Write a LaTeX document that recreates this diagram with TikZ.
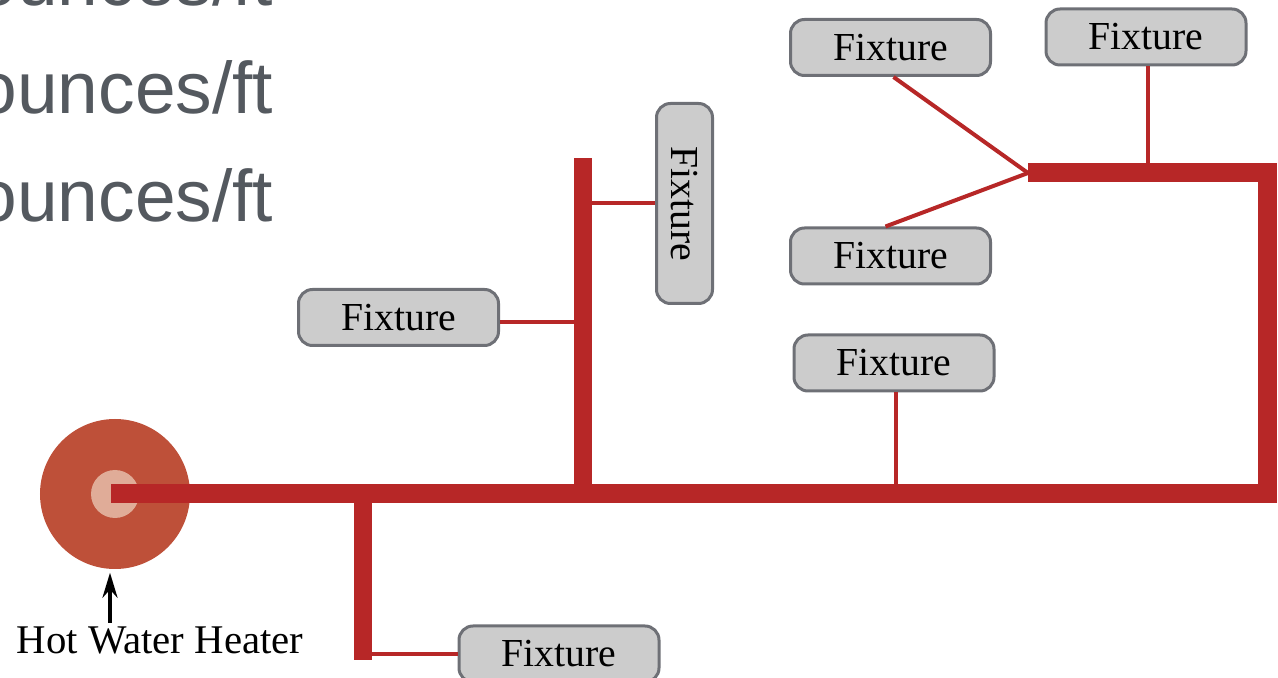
\documentclass[tikz,border=0pt]{standalone}
\usetikzlibrary{arrows.meta}
\usepackage{fontspec}
\setmainfont{Liberation Serif}
\newfontfamily\slidefont{Liberation Sans}
\definecolor{pipered}{HTML}{B72727}
\definecolor{heaterred}{HTML}{BE5039}
\definecolor{heatercore}{HTML}{E0AC98}
\definecolor{fixturegray}{HTML}{CCCCCC}
\definecolor{fixtureline}{HTML}{6E7076}
\definecolor{slidetext}{HTML}{54595F}
\tikzset{
	fixture/.style={draw=fixtureline, line width=0.03cm, rectangle, rounded corners=0.14cm, fill=fixturegray, minimum width=2cm, minimum height=0.56cm, inner sep=0pt, font=\fontsize{11.3pt}{13pt}\selectfont},
	mainpipe/.style={draw=pipered, line width=0.19cm},
	thinpipe/.style={draw=pipered, line width=0.04cm},
	slideline/.style={anchor=base east, inner sep=0pt, text=slidetext, font=\slidefont\fontsize{20.8pt}{24pt}\selectfont}
}
\begin{document}
\begin{tikzpicture}
	\useasboundingbox (0, 0) rectangle (12.78, 6.78);
	\clip (0, 0) rectangle (12.78, 6.78);
	% leftover slide text
	\node[slideline] (L1)at(2.74, 6.72) {ounces/ft};
	\node[slideline] (L2)at(2.74, 5.645) {ounces/ft};
	\node[slideline] (L3)at(2.74, 4.565) {ounces/ft};
	% heater
	\node[circle, fill=heaterred, minimum size=1.5cm] (Heater)at(1.15, 1.84) {};
	\node[circle, fill=heatercore, minimum size=0.48cm, inner sep=0pt] (Core)at(1.15, 1.84) {};
	\node[inner sep=0pt, font=\fontsize{11.6pt}{13pt}\selectfont] (HeaterLabel)at(1.60, 0.38) {Hot Water Heater};
	% fixtures
	\node[fixture] (F1)at(8.905, 6.305) {Fixture};
	\node[fixture] (F2)at(11.46, 6.41) {Fixture};
	\node[fixture] (F3)at(8.905, 4.22) {Fixture};
	\node[fixture] (F4)at(8.94, 3.15) {Fixture};
	\node[fixture] (F5)at(3.985, 3.605) {Fixture};
	\node[fixture, rotate=-90] (F6)at(6.845, 4.745) {Fixture};
	\node[fixture] (F7)at(5.59, 0.24) {Fixture};
	% pipe corners
	\coordinate (Corner1)at(12.67, 1.84);
	\coordinate (Corner2)at(12.67, 5.05);
	\coordinate (Split)at(10.28, 5.05);
	\coordinate (Tee1)at(5.83, 1.84);
	\coordinate (Tee1Top)at(5.83, 5.20);
	\coordinate (Tee2)at(3.63, 1.84);
	\coordinate (Tee2End)at(3.63, 0.18);
	\coordinate (Foot)at(1.10, 0.55);
	% thin pipes
	\draw[thinpipe] ([xshift=0.03cm]F1.south) -- (Split);
	\draw[thinpipe] ([xshift=-0.05cm]F3.north) -- (Split);
	\draw[thinpipe] ([xshift=0.02cm]F2.south) -- ([xshift=0.02cm]F2.south |- Split);
	\draw[thinpipe] ([xshift=0.02cm]F4.south) -- ([xshift=0.02cm]F4.south |- Corner1);
	\draw[thinpipe] ([yshift=-0.045cm]F5.east) -- ([yshift=-0.045cm]F5.east -| Tee1);
	\draw[thinpipe] (F6.south) -- (F6.south -| Tee1);
	\draw[thinpipe] (F7.west) -- (F7.west -| Tee2);
	% main pipes
	\draw[mainpipe, line join=miter] ([xshift=-0.04cm]Heater.center) -- (Corner1) -- (Corner2) -- (Split);
	\draw[mainpipe, line width=0.18cm] (Tee1) -- (Tee1Top);
	\draw[mainpipe, line width=0.18cm] (Tee2) -- (Tee2End);
	% arrow
	\draw[-{Stealth[length=0.25cm, width=0.15cm]}, line width=0.04cm, shorten >=0.03cm] (Foot) -- (Foot |- Heater.south);
\end{tikzpicture}
\end{document}
